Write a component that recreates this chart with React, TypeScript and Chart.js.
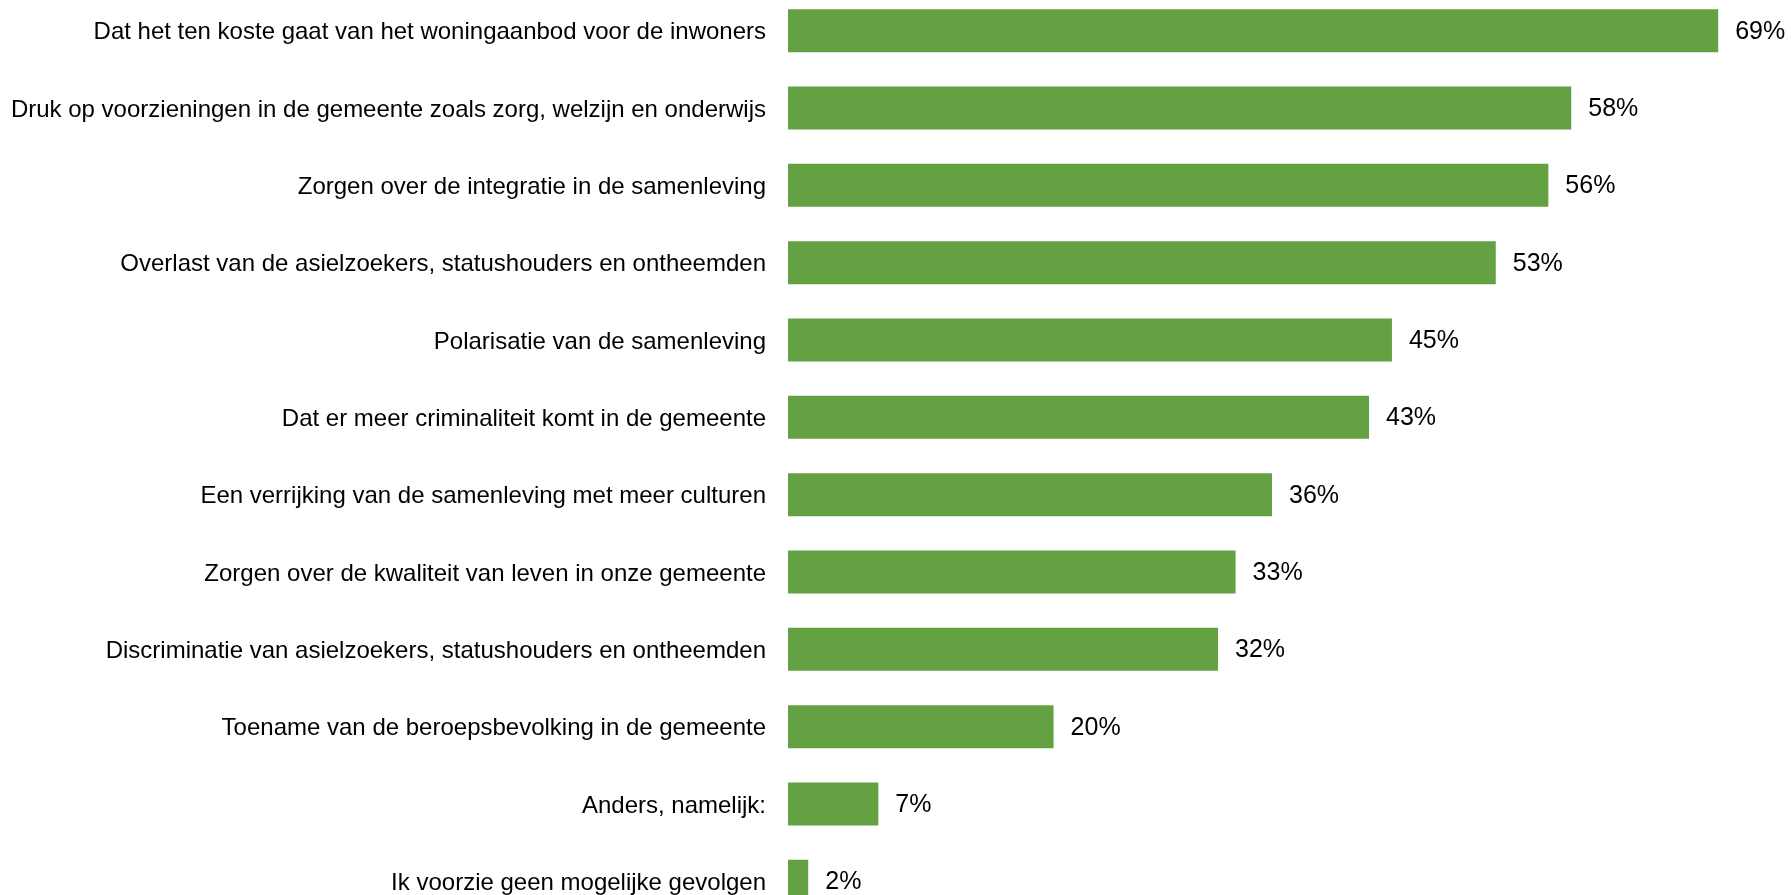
import React, { useEffect, useRef } from "react";
import { Chart, registerables } from "chart.js";

Chart.register(...registerables);

const categories: string[] = [
  "Dat het ten koste gaat van het woningaanbod voor de inwoners",
  "Druk op voorzieningen in de gemeente zoals zorg, welzijn en onderwijs",
  "Zorgen over de integratie in de samenleving",
  "Overlast van de asielzoekers, statushouders en ontheemden",
  "Polarisatie van de samenleving",
  "Dat er meer criminaliteit komt in de gemeente",
  "Een verrijking van de samenleving met meer culturen",
  "Zorgen over de kwaliteit van leven in onze gemeente",
  "Discriminatie van asielzoekers, statushouders en ontheemden",
  "Toename van de beroepsbevolking in de gemeente",
  "Anders, namelijk:",
  "Ik voorzie geen mogelijke gevolgen",
];

const values: number[] = [69, 58.1, 56.4, 52.5, 44.8, 43.1, 35.9, 33.2, 31.9, 19.7, 6.7, 1.5];

const valueLabels: string[] = ["69%", "58%", "56%", "53%", "45%", "43%", "36%", "33%", "32%", "20%", "7%", "2%"];

const FONT = "'Liberation Sans', Arial, sans-serif";

const valueLabelPlugin = {
  id: "valueLabels",
  afterDatasetsDraw(chart: any) {
    const ctx = chart.ctx;
    const meta = chart.getDatasetMeta(0);
    ctx.save();
    ctx.font = `25px ${FONT}`;
    ctx.fillStyle = "#000";
    ctx.textAlign = "left";
    ctx.textBaseline = "middle";
    meta.data.forEach((bar: any, i: number) => {
      ctx.fillText(valueLabels[i], bar.x + 17, bar.y + 1);
    });
    ctx.restore();
  },
};

export default function App() {
  const ref = useRef<HTMLCanvasElement | null>(null);
  useEffect(() => {
    if (!ref.current) return;
    const chart = new Chart(ref.current, {
      type: "bar",
      data: {
        labels: categories,
        datasets: [
          {
            data: values,
            backgroundColor: "#63a143",
            borderWidth: 0,
            categoryPercentage: 1,
            barPercentage: 0.556,
          },
        ],
      },
      options: {
        indexAxis: "y",
        animation: false,
        responsive: false,
        layout: { padding: 0 },
        plugins: {
          legend: { display: false },
          tooltip: { enabled: false },
        },
        scales: {
          x: {
            display: false,
            min: 0,
            max: 74.4,
          },
          y: {
            offset: true,
            grid: { display: false, drawTicks: false },
            border: { display: false },
            ticks: {
              padding: 22,
              labelOffset: 2,
              color: "#000",
              font: { family: FONT, size: 24 },
            },
            afterFit: (scale: any) => {
              scale.width = 788;
              scale.paddingTop = 0;
              scale.paddingBottom = 0;
            },
          },
        },
      },
      plugins: [valueLabelPlugin],
    });
    return () => chart.destroy();
  }, []);

  return (
    <div
      style={{
        position: "fixed",
        left: 0,
        top: 0,
        width: 1791,
        height: 895,
        overflow: "hidden",
        background: "#fff",
      }}
    >
      <canvas
        ref={ref}
        width={1791}
        height={928}
        style={{ position: "absolute", left: 0, top: -8, width: 1791, height: 928 }}
      />
    </div>
  );
}
